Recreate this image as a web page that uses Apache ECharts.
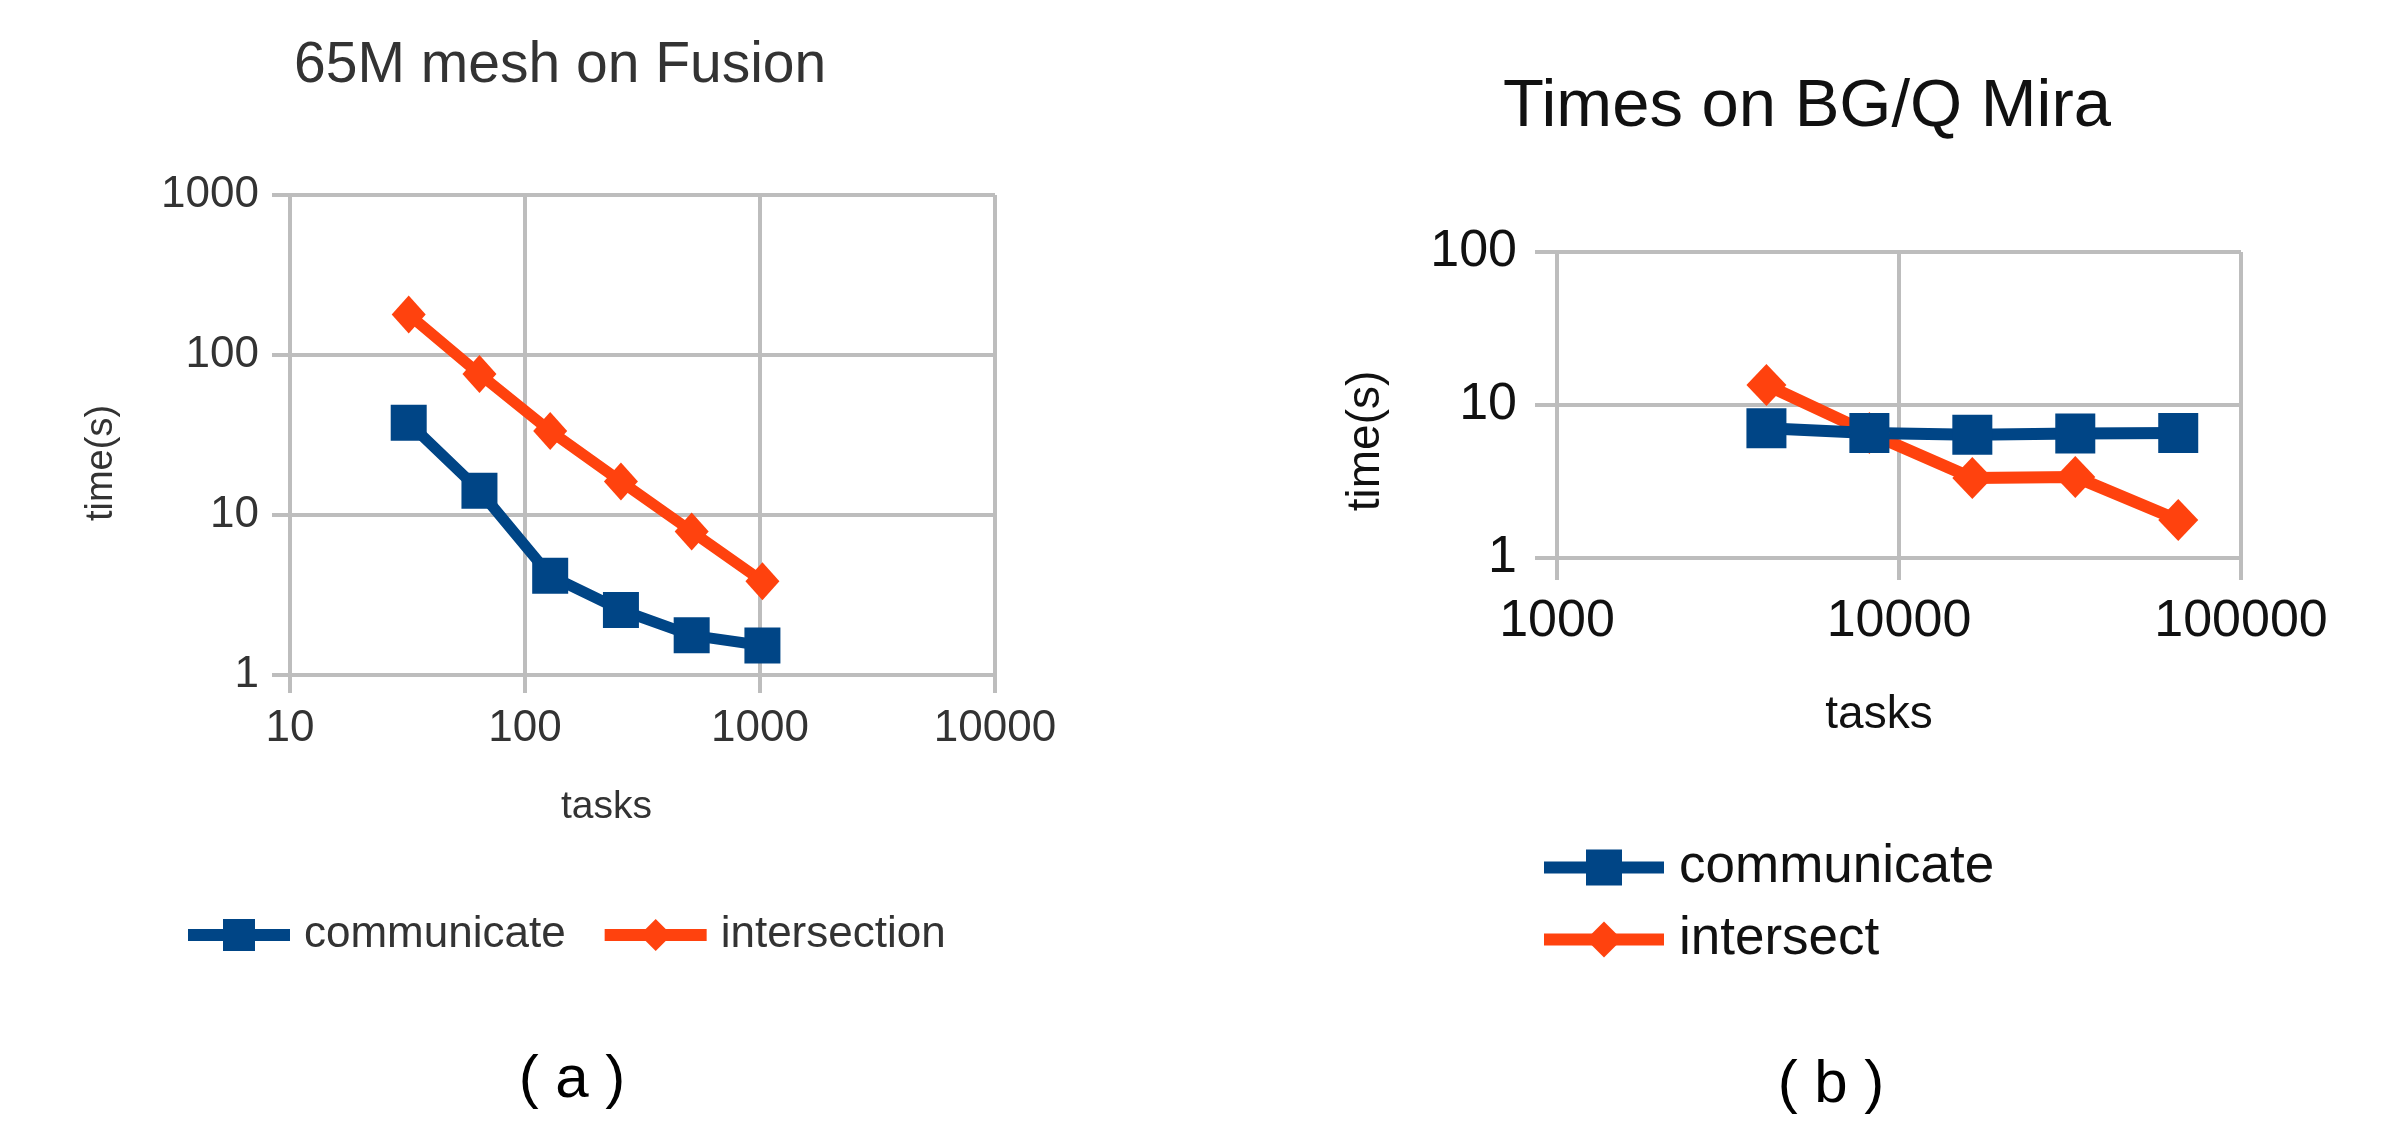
<!DOCTYPE html>
<html>
<head>
    <meta charset="utf-8" />
    <title>Echarts</title>
    <script src="https://cdn.jsdelivr.net/npm/echarts@6/dist/echarts.min.js"></script>
    <style>
        html, body { margin: 0; padding: 0; background: #fff; }
        #main { width: 2394px; height: 1124px; }
    </style>
</head>
<body>
    <div id="main"></div>
    <script type="text/javascript">
        // (a) 65M mesh on Fusion
        var tasksA = [32, 64, 128, 256, 512, 1024];
        var communicateA = [37.7, 14.2, 4.17, 2.55, 1.77, 1.53];
        var intersectionA = [179, 76, 33.5, 16.2, 7.9, 3.86];
        // (b) Times on BG/Q Mira
        var tasksB = [4096, 8192, 16384, 32768, 65536];
        var communicateB = [7.05, 6.55, 6.4, 6.5, 6.55];
        var intersectB = [13.5, 6.55, 3.33, 3.39, 1.77];

        var BLUE = '#004586';
        var ORANGE = '#ff420e';
        var GRID = '#bdbdbd';
        var FONT = 'Liberation Sans, Arial, sans-serif';

        function pairs(xs, ys) {
            return xs.map(function (x, i) { return [x, ys[i]]; });
        }
        function plain(v) { return String(Math.round(v)); }

        function logAxis(gridIndex, min, max, tick, fs, color, margin, extra) {
            var ax = {
                type: 'log', logBase: 10, gridIndex: gridIndex, min: min, max: max,
                axisLine: { show: true, lineStyle: { color: GRID, width: 4 } },
                axisTick: { show: true, length: tick, lineStyle: { color: GRID, width: 4 } },
                splitLine: { show: true, lineStyle: { color: GRID, width: 4 } },
                minorTick: { show: false },
                axisLabel: { fontFamily: FONT, fontSize: fs, color: color, margin: margin, formatter: plain }
            };
            for (var k in extra) ax[k] = extra[k];
            return ax;
        }

        var myChart = echarts.init(document.getElementById('main'));
        myChart.setOption({
            backgroundColor: '#fff',
            animation: false,
            title: [
                { text: '65M mesh on Fusion', left: 289, top: 33,
                  textStyle: { fontFamily: FONT, fontSize: 57, fontWeight: 'normal', color: '#333' } },
                { text: 'Times on BG/Q Mira', left: 1498, top: 69,
                  textStyle: { fontFamily: FONT, fontSize: 67, fontWeight: 'normal', color: '#111' } },
                { text: '( a )', left: 567, top: 1045, textAlign: 'center',
                  textStyle: { fontFamily: FONT, fontSize: 60, fontWeight: 'normal', color: '#000' } },
                { text: '( b )', left: 1826, top: 1050, textAlign: 'center',
                  textStyle: { fontFamily: FONT, fontSize: 60, fontWeight: 'normal', color: '#000' } }
            ],
            legend: [
                {
                    data: ['communicate', 'intersection'],
                    left: 177, top: 908, orient: 'horizontal',
                    itemWidth: 102, itemHeight: 40, itemGap: 33,
                    lineStyle: { width: 12 },
                    textStyle: { fontFamily: FONT, fontSize: 44, color: '#333', padding: [0, 0, 0, 9] }
                },
                {
                    data: ['communicate ', 'intersect'],
                    left: 1533, top: 836, orient: 'vertical',
                    itemWidth: 120, itemHeight: 45, itemGap: 19,
                    lineStyle: { width: 12 },
                    textStyle: { fontFamily: FONT, fontSize: 53, color: '#111', padding: [0, 0, 0, 10] }
                }
            ],
            grid: [
                { left: 290, top: 195, width: 705, height: 480 },
                { left: 1557, top: 252, width: 684, height: 306 }
            ],
            xAxis: [
                logAxis(0, 10, 10000, 18, 44, '#333', 32, {
                    name: 'tasks', nameLocation: 'middle', nameGap: 113,
                    nameTextStyle: { fontFamily: FONT, fontSize: 39, color: '#333', padding: [0, 72, 0, 0] }
                }),
                logAxis(1, 1000, 100000, 22, 52, '#111', 38, {
                    name: 'tasks', nameLocation: 'middle', nameGap: 134,
                    nameTextStyle: { fontFamily: FONT, fontSize: 46, color: '#111', padding: [0, 40, 0, 0] }
                })
            ],
            yAxis: [
                logAxis(0, 1, 1000, 18, 44, '#333', 31, {
                    name: 'time(s)', nameLocation: 'middle', nameGap: 169,
                    nameTextStyle: { fontFamily: FONT, fontSize: 38, color: '#333', padding: [0, 56, 0, 0] }
                }),
                logAxis(1, 1, 100, 22, 52, '#111', 40, {
                    name: 'time(s)', nameLocation: 'middle', nameGap: 168,
                    nameTextStyle: { fontFamily: FONT, fontSize: 46, color: '#111', padding: [0, 72, 0, 0] }
                })
            ],
            series: [
                {
                    name: 'communicate', type: 'line', xAxisIndex: 0, yAxisIndex: 0,
                    data: pairs(tasksA, communicateA),
                    symbol: 'rect', symbolSize: 36,
                    lineStyle: { color: BLUE, width: 11 }, itemStyle: { color: BLUE }
                },
                {
                    name: 'intersection', type: 'line', xAxisIndex: 0, yAxisIndex: 0,
                    data: pairs(tasksA, intersectionA),
                    symbol: 'diamond', symbolSize: [34, 38],
                    lineStyle: { color: ORANGE, width: 11 }, itemStyle: { color: ORANGE }
                },
                {
                    name: 'intersect', type: 'line', xAxisIndex: 1, yAxisIndex: 1,
                    data: pairs(tasksB, intersectB),
                    symbol: 'diamond', symbolSize: [40, 42],
                    lineStyle: { color: ORANGE, width: 12 }, itemStyle: { color: ORANGE }
                },
                {
                    name: 'communicate ', type: 'line', xAxisIndex: 1, yAxisIndex: 1,
                    data: pairs(tasksB, communicateB),
                    symbol: 'rect', symbolSize: 40,
                    lineStyle: { color: BLUE, width: 12 }, itemStyle: { color: BLUE }
                }
            ]
        });
    </script>
</body>
</html>
